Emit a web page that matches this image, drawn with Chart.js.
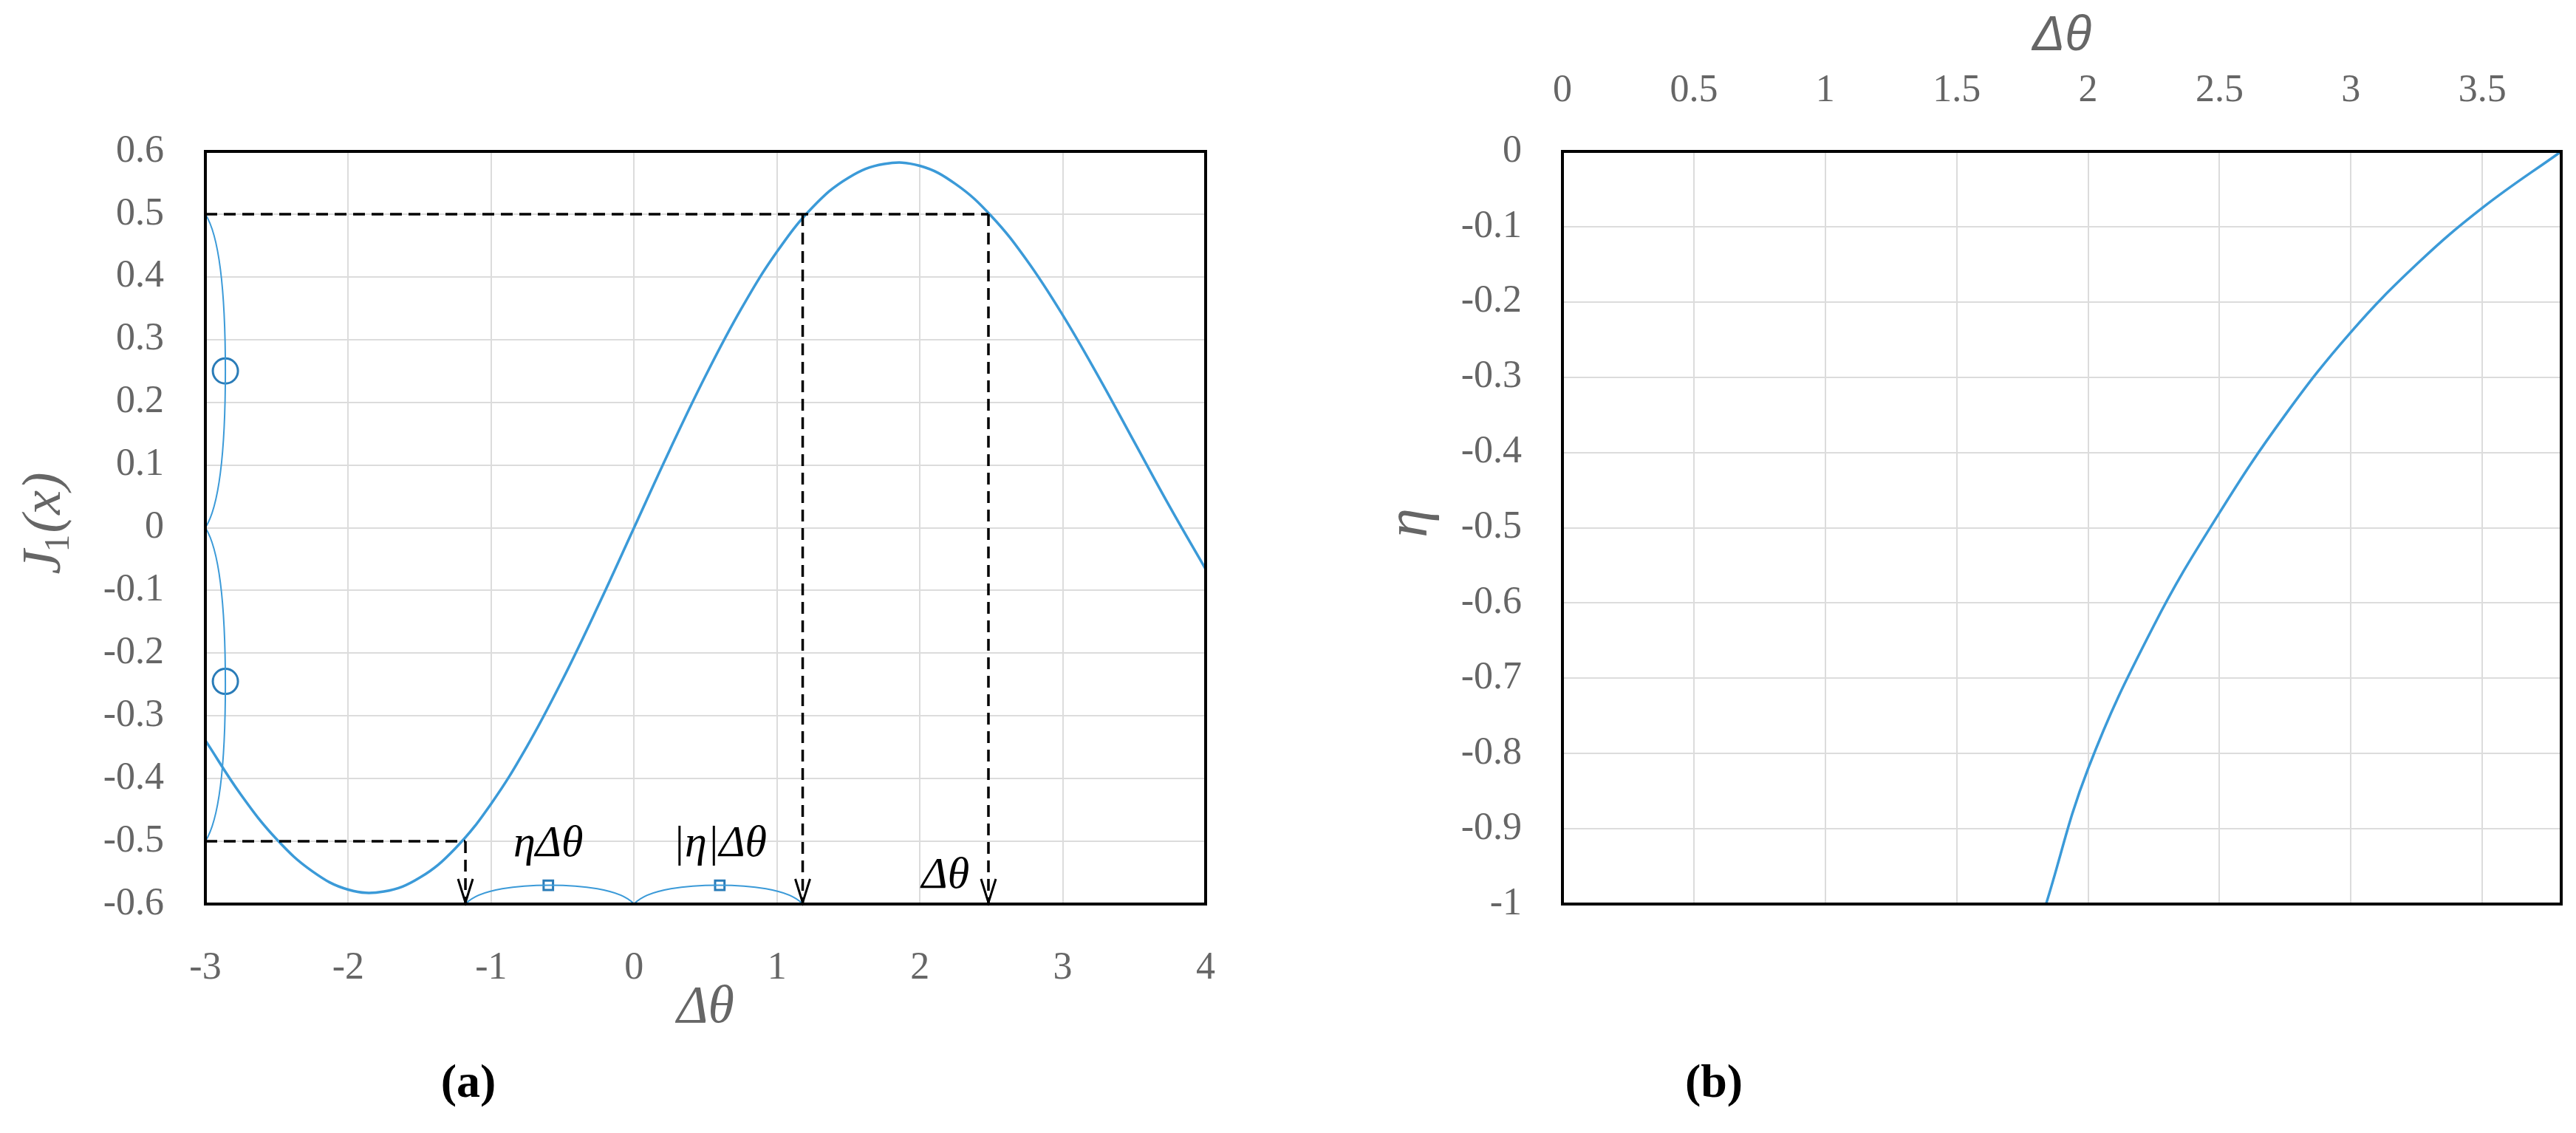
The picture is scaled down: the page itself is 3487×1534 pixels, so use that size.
<!DOCTYPE html>
<html><head><meta charset="utf-8">
<script src="https://cdn.jsdelivr.net/npm/chart.js@4"></script>
<style>body{margin:0;background:#fff;width:3487px;height:1534px;position:relative;overflow:hidden}
canvas{position:absolute;top:0}</style></head>
<body>
<div style="position:absolute;left:0;top:0;width:1750px;height:1534px"><canvas id="ca"></canvas></div>
<div style="position:absolute;left:1750px;top:0;width:1737px;height:1534px"><canvas id="cb"></canvas></div>
<script>
// Panel (a): J1 curve vs Δθ
const aDeltaTheta = [-3,-2.75,-2.5,-2.25,-2,-1.75,-1.5,-1.25,-1,-0.75,-0.5,-0.25,0,0.25,0.5,0.75,1,1.25,1.5,1.75,2,2.25,2.5,2.75,3,3.25,3.5,3.75,4];
const aJ1 = [-0.339,-0.426,-0.497,-0.548,-0.577,-0.580,-0.558,-0.511,-0.440,-0.349,-0.242,-0.124,0,0.124,0.242,0.349,0.440,0.511,0.558,0.580,0.577,0.548,0.497,0.426,0.339,0.241,0.137,0.033,-0.066];
const aXTicks = [-3,-2,-1,0,1,2,3,4];
const aYTicks = [-0.6,-0.5,-0.4,-0.3,-0.2,-0.1,0,0.1,0.2,0.3,0.4,0.5,0.6];
const aCircles = [{x:-2.86,y:0.25},{x:-2.86,y:-0.245}];
const aSquares = [{x:-0.6,y:-0.57},{x:0.6,y:-0.57}];
const aLevel = 0.5, aLow = 1.18, aHigh = 2.48;
// Panel (b): η vs Δθ
const bDeltaTheta = [1.84,2.0,2.25,2.5,2.75,3.0,3.25,3.5,3.8];
const bEta = [-1,-0.82,-0.63,-0.48,-0.35,-0.24,-0.15,-0.075,0];
const bXTicks = [0,0.5,1,1.5,2,2.5,3,3.5];
const bYTicks = [0,-0.1,-0.2,-0.3,-0.4,-0.5,-0.6,-0.7,-0.8,-0.9,-1];

const BLUE='#3b9ad8', GRID='#dcdcdc', TICK='#666666';
const tickFont={family:'Liberation Serif',size:52};
Chart.defaults.animation=false;
Chart.defaults.devicePixelRatio=1;
const fmt=v=>String(Math.round(v*10)/10);

const frame={id:'frame',afterDraw(c){const a=c.chartArea,g=c.ctx;g.save();g.strokeStyle='#000';g.lineWidth=4;g.strokeRect(a.left,a.top,a.right-a.left,a.bottom-a.top);g.restore();}};

function fixTicks(list){return s=>{s.ticks=list.map(v=>({value:v}));};}

const annot={id:'annot',afterDatasetsDraw(c){
  const g=c.ctx,X=v=>c.scales.x.getPixelForValue(v),Y=v=>c.scales.y.getPixelForValue(v);
  g.save();
  g.strokeStyle=BLUE;g.lineWidth=2;
  const vb=(y0,y1)=>{const m=(y0+y1)/2;g.beginPath();g.moveTo(X(-3),Y(y0));
    g.bezierCurveTo(X(-2.86),Y(y0-0.05),X(-2.86),Y(m+0.05),X(-2.86),Y(m));
    g.bezierCurveTo(X(-2.86),Y(m-0.05),X(-2.86),Y(y1+0.05),X(-3),Y(y1));g.stroke();};
  vb(aLevel,0);vb(0,-aLevel);
  const hb=(x0,x1)=>{const m=(x0+x1)/2;g.beginPath();g.moveTo(X(x0),Y(-0.6));
    g.bezierCurveTo(X(x0+0.1),Y(-0.575),X(m-0.2),Y(-0.57),X(m),Y(-0.57));
    g.bezierCurveTo(X(m+0.2),Y(-0.57),X(x1-0.1),Y(-0.575),X(x1),Y(-0.6));g.stroke();};
  hb(-aLow,0);hb(0,aLow);
  g.strokeStyle='#000';g.lineWidth=3.5;g.setLineDash([16,9]);
  g.beginPath();g.moveTo(X(-3),Y(aLevel));g.lineTo(X(aHigh),Y(aLevel));
  g.moveTo(X(-3),Y(-aLevel));g.lineTo(X(-aLow),Y(-aLevel));
  [-aLow,aLow].forEach(x=>{g.moveTo(X(x),Y(x<0?-aLevel:aLevel));g.lineTo(X(x),Y(-0.6));});
  g.moveTo(X(aHigh),Y(aLevel));g.lineTo(X(aHigh),Y(-0.6));g.stroke();
  g.setLineDash([]);g.lineWidth=3;
  [-aLow,aLow,aHigh].forEach(x=>{const px=X(x),py=Y(-0.6)-2;g.beginPath();g.moveTo(px-10,py-32);g.lineTo(px,py);g.lineTo(px+10,py-32);g.stroke();});
  g.fillStyle='#000';g.textAlign='center';g.textBaseline='middle';g.font='italic 60px Liberation Serif';
  g.fillText('ηΔθ',X(-0.6),Y(-0.505));
  g.fillText('|η|Δθ',X(0.6),Y(-0.505));
  g.fillText('Δθ',X(2.18),Y(-0.555));
  g.fillStyle=TICK;g.font='italic 72px Liberation Serif';
  g.fillText('Δθ',X(0.5),1365);
  g.save();g.translate(62,Y(0.02));g.rotate(-Math.PI/2);g.textAlign='left';
  g.font='italic 74px Liberation Serif';g.fillText('J',-80,0);
  g.font='48px Liberation Serif';g.fillText('1',-50,18);
  g.font='italic 74px Liberation Serif';g.fillText('(x)',-24,0);g.restore();
  g.fillStyle='#000';g.font='bold 64px Liberation Serif';g.textAlign='center';
  g.fillText('(a)',634,1468);
  g.restore();}};

new Chart(document.getElementById('ca'),{type:'scatter',
 data:{datasets:[
  {data:aDeltaTheta.map((x,i)=>({x,y:aJ1[i]})),showLine:true,borderColor:BLUE,borderWidth:3.5,pointRadius:0,tension:0.4},
  {data:aCircles,pointStyle:'circle',pointRadius:17,borderColor:'#2a7cb8',borderWidth:3,backgroundColor:'rgba(0,0,0,0)'},
  {data:aSquares,pointStyle:'rect',pointRadius:9,borderColor:'#2a7cb8',borderWidth:3,backgroundColor:'rgba(0,0,0,0)'}]},
 options:{responsive:true,maintainAspectRatio:false,layout:{padding:{left:0,right:118,top:205,bottom:0}},
  plugins:{legend:{display:false},tooltip:{enabled:false}},
  scales:{
   x:{type:'linear',min:-3,max:4,afterBuildTicks:fixTicks(aXTicks),afterFit:s=>{s.height=310;},
      grid:{color:GRID,lineWidth:2,drawTicks:false},border:{display:false},
      ticks:{color:TICK,font:tickFont,padding:56,maxRotation:0,callback:fmt}},
   y:{type:'linear',min:-0.6,max:0.6,afterBuildTicks:fixTicks(aYTicks),afterFit:s=>{s.width=278;},
      grid:{color:GRID,lineWidth:2,drawTicks:false},border:{display:false},
      ticks:{color:TICK,font:tickFont,padding:56,callback:fmt}}}},
 plugins:[frame,annot]});

const annotB={id:'annotB',afterDraw(c){const g=c.ctx,a=c.chartArea;g.save();g.fillStyle=TICK;g.textAlign='center';g.textBaseline='middle';
  g.font='italic 66px Liberation Sans';g.fillText('Δθ',(a.left+a.right)/2,50);
  g.save();g.translate(160,708);g.rotate(-Math.PI/2);g.font='italic 80px Liberation Serif';g.fillText('η',0,0);g.restore();
  g.fillStyle='#000';g.font='bold 64px Liberation Serif';g.fillText('(b)',570,1468);g.restore();}};

new Chart(document.getElementById('cb'),{type:'scatter',
 data:{datasets:[{data:bDeltaTheta.map((x,i)=>({x,y:bEta[i]})),showLine:true,borderColor:BLUE,borderWidth:3.5,pointRadius:0,tension:0.4}]},
 options:{responsive:true,maintainAspectRatio:false,layout:{padding:{left:0,right:20,top:0,bottom:310}},
  plugins:{legend:{display:false},tooltip:{enabled:false}},
  scales:{
   x:{type:'linear',position:'top',min:0,max:3.8,afterBuildTicks:fixTicks(bXTicks),afterFit:s=>{s.height=205;},
      grid:{color:GRID,lineWidth:2,drawTicks:false},border:{display:false},
      ticks:{color:TICK,font:tickFont,padding:50,maxRotation:0,callback:fmt}},
   y:{type:'linear',min:-1,max:0,afterBuildTicks:fixTicks(bYTicks),afterFit:s=>{s.width=365;},
      grid:{color:GRID,lineWidth:2,drawTicks:false},border:{display:false},
      ticks:{color:TICK,font:tickFont,padding:55,callback:fmt}}}},
 plugins:[frame,annotB]});
</script></body></html>
